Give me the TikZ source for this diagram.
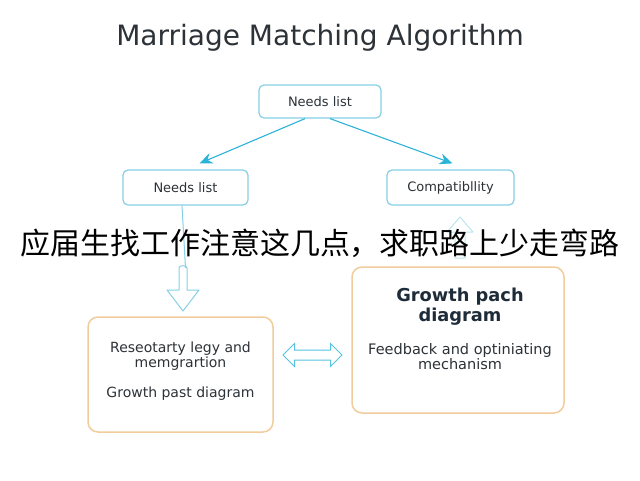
\documentclass[tikz,border=0pt]{standalone}
\usepackage{fontspec}
\setmainfont{DejaVu Sans}
\newfontfamily\cjk{Noto Sans CJK SC}
\usetikzlibrary{arrows.meta, shapes.arrows}
\definecolor{flowcyan}{HTML}{2BB3D9}
\definecolor{boxcyan}{HTML}{86CFE4}
\definecolor{boxtan}{HTML}{F1CC9C}
\definecolor{inkgray}{HTML}{2C3237}
\definecolor{inknavy}{HTML}{1E2B38}
\tikzset{
  listbox/.style={draw=boxcyan, line width=1.2pt, rounded corners=5pt, fill=white,
    font=\fontsize{13}{14}\selectfont, text=inkgray, inner sep=0pt},
  stagebox/.style={draw=boxtan, line width=1.5pt, rounded corners=10pt, fill=white, inner sep=0pt},
  stagetext/.style={font=\fontsize{14}{15}\selectfont, text=inkgray, align=center},
  flow/.style={->, flowcyan, line width=1.1pt},
  hollow/.style={draw=boxcyan, line width=1pt, line join=round}
}

\begin{document}
\begin{tikzpicture}[x=1pt, y=-1pt, >={Stealth[length=13pt,width=11pt]}]
    \useasboundingbox (0,0) rectangle (640,480);
    \node[font=\fontsize{28}{30}\selectfont, text=inkgray] (title) at (320,38) {Marriage Matching Algorithm};
    % list boxes
    \node[listbox, minimum width=122pt, minimum height=33pt] (needs) at (320,101.5) {Needs list};
    \node[listbox, minimum width=125pt, minimum height=35pt] (needsL) at (185.5,187.5) {Needs list};
    \node[listbox, minimum width=127pt, minimum height=35pt] (compat) at (450.5,187.5) {Compatibllity};
    \draw[flow] ([xshift=-15pt]needs.south) -- ([xshift=14pt, yshift=6pt]needsL.north);
    \draw[flow] ([xshift=10pt]needs.south) -- ([xshift=2pt, yshift=6pt]compat.north);
    % hollow arrows
    \coordinate (downtop) at (183,268);
    \draw[hollow] (179,268) -- (179,290) -- (167,290) -- (183,311) -- (199,290)
        -- (187,290) -- (187,268) to[out=90, in=90] cycle;
    \draw[hollow, draw=boxcyan!55] (460,217) -- (473,232) -- (465,232) -- (465,258)
        -- (455,258) -- (455,232) -- (447,232) -- cycle;
    \draw[boxcyan, line width=1pt] ([xshift=-3.5pt]needsL.south) -- (needsL.south |- downtop);
    % stage boxes
    \node[stagebox, minimum width=185pt, minimum height=115pt] (plan) at (180.5,374.5) {};
    \node[stagebox, minimum width=212pt, minimum height=146pt] (growth) at (458,340) {};
    \node[stagetext] (planA) at (180.5,356) {Reseotarty legy and\\memgrartion};
    \node[stagetext, anchor=base] (planB) at (180.5,397) {Growth past diagram};
    \node[font=\bfseries\fontsize{17.8}{20}\selectfont, text=inknavy, align=center] (growthA) at (460,307) {Growth pach\\diagram};
    \node[stagetext, font=\fontsize{14.5}{15}\selectfont] (growthB) at (460,357) {Feedback and optiniating\\mechanism};
    \node[double arrow, draw=flowcyan!80, line width=1pt, inner sep=4.5pt, minimum height=59pt,
        double arrow head extend=6.5pt, double arrow head indent=0pt] (swap) at (312.5,355) {};
    % overlay line
    \node[font=\cjk\fontsize{30}{32}\selectfont, text=black] (banner) at (320,243) {应届生找工作注意这几点，求职路上少走弯路};
\end{tikzpicture}
\end{document}
